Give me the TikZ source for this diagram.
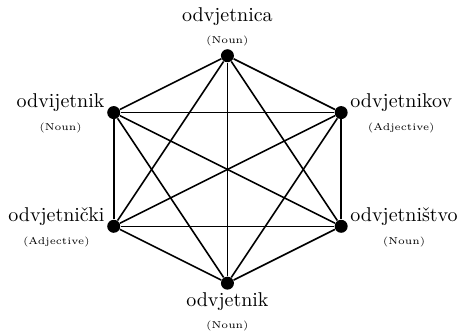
\documentclass[tikz,border=0pt]{standalone}
\usepackage{fontspec}
\usepackage{tikz}
\usetikzlibrary{positioning}

\tikzset{
  vertex/.style={circle, fill=black, inner sep=0pt, minimum size=6.5pt},
  word/.style={inner sep=1pt},
  kind/.style={inner sep=1pt, font=\tiny},
  edge/.style={line width=0.8pt}
}

\begin{document}
\begin{tikzpicture}
  \useasboundingbox (-4,-2.91) rectangle (4.09,2.98);

  % vertices
  \node[vertex] (ca)   at (0,2)   {};
  \node[vertex] (ik)   at (-2,1)  {};
  \node[vertex] (kov)  at (2,1)   {};
  \node[vertex] (cki)  at (-2,-1) {};
  \node[vertex] (stvo) at (2,-1)  {};
  \node[vertex] (nik)  at (0,-2)  {};

  % edges
  \foreach \a/\b in {ca/ik, ca/kov, ca/cki, ca/stvo, ca/nik,
                     ik/kov, ik/cki, ik/stvo, ik/nik,
                     kov/cki, kov/stvo, kov/nik,
                     cki/stvo, cki/nik, stvo/nik}
    \draw[edge] (\a) -- (\b);

  % labels
  \node[kind, above=0pt of ca] (ca-k) {(Noun)};
  \node[word, above=3pt of ca-k] (ca-w) {odvjetnica};

  \node[word, anchor=base east, yshift=2.3pt] (ik-w) at (ik.west) {odvijetnik};
  \node[kind, below=3pt of ik-w] (ik-k) {(Noun)};

  \node[word, anchor=base west, yshift=2.3pt] (kov-w) at (kov.east) {odvjetnikov};
  \node[kind, below=3pt of kov-w] (kov-k) {(Adjective)};

  \node[word, anchor=base east, yshift=2.3pt] (cki-w) at (cki.west) {odvjetnički};
  \node[kind, below=3pt of cki-w] (cki-k) {(Adjective)};

  \node[word, anchor=base west, yshift=2.3pt] (stvo-w) at (stvo.east) {odvjetništvo};
  \node[kind, below=3pt of stvo-w] (stvo-k) {(Noun)};

  \node[word, below=0pt of nik] (nik-w) {odvjetnik};
  \node[kind, below=3pt of nik-w] (nik-k) {(Noun)};
\end{tikzpicture}
\end{document}
